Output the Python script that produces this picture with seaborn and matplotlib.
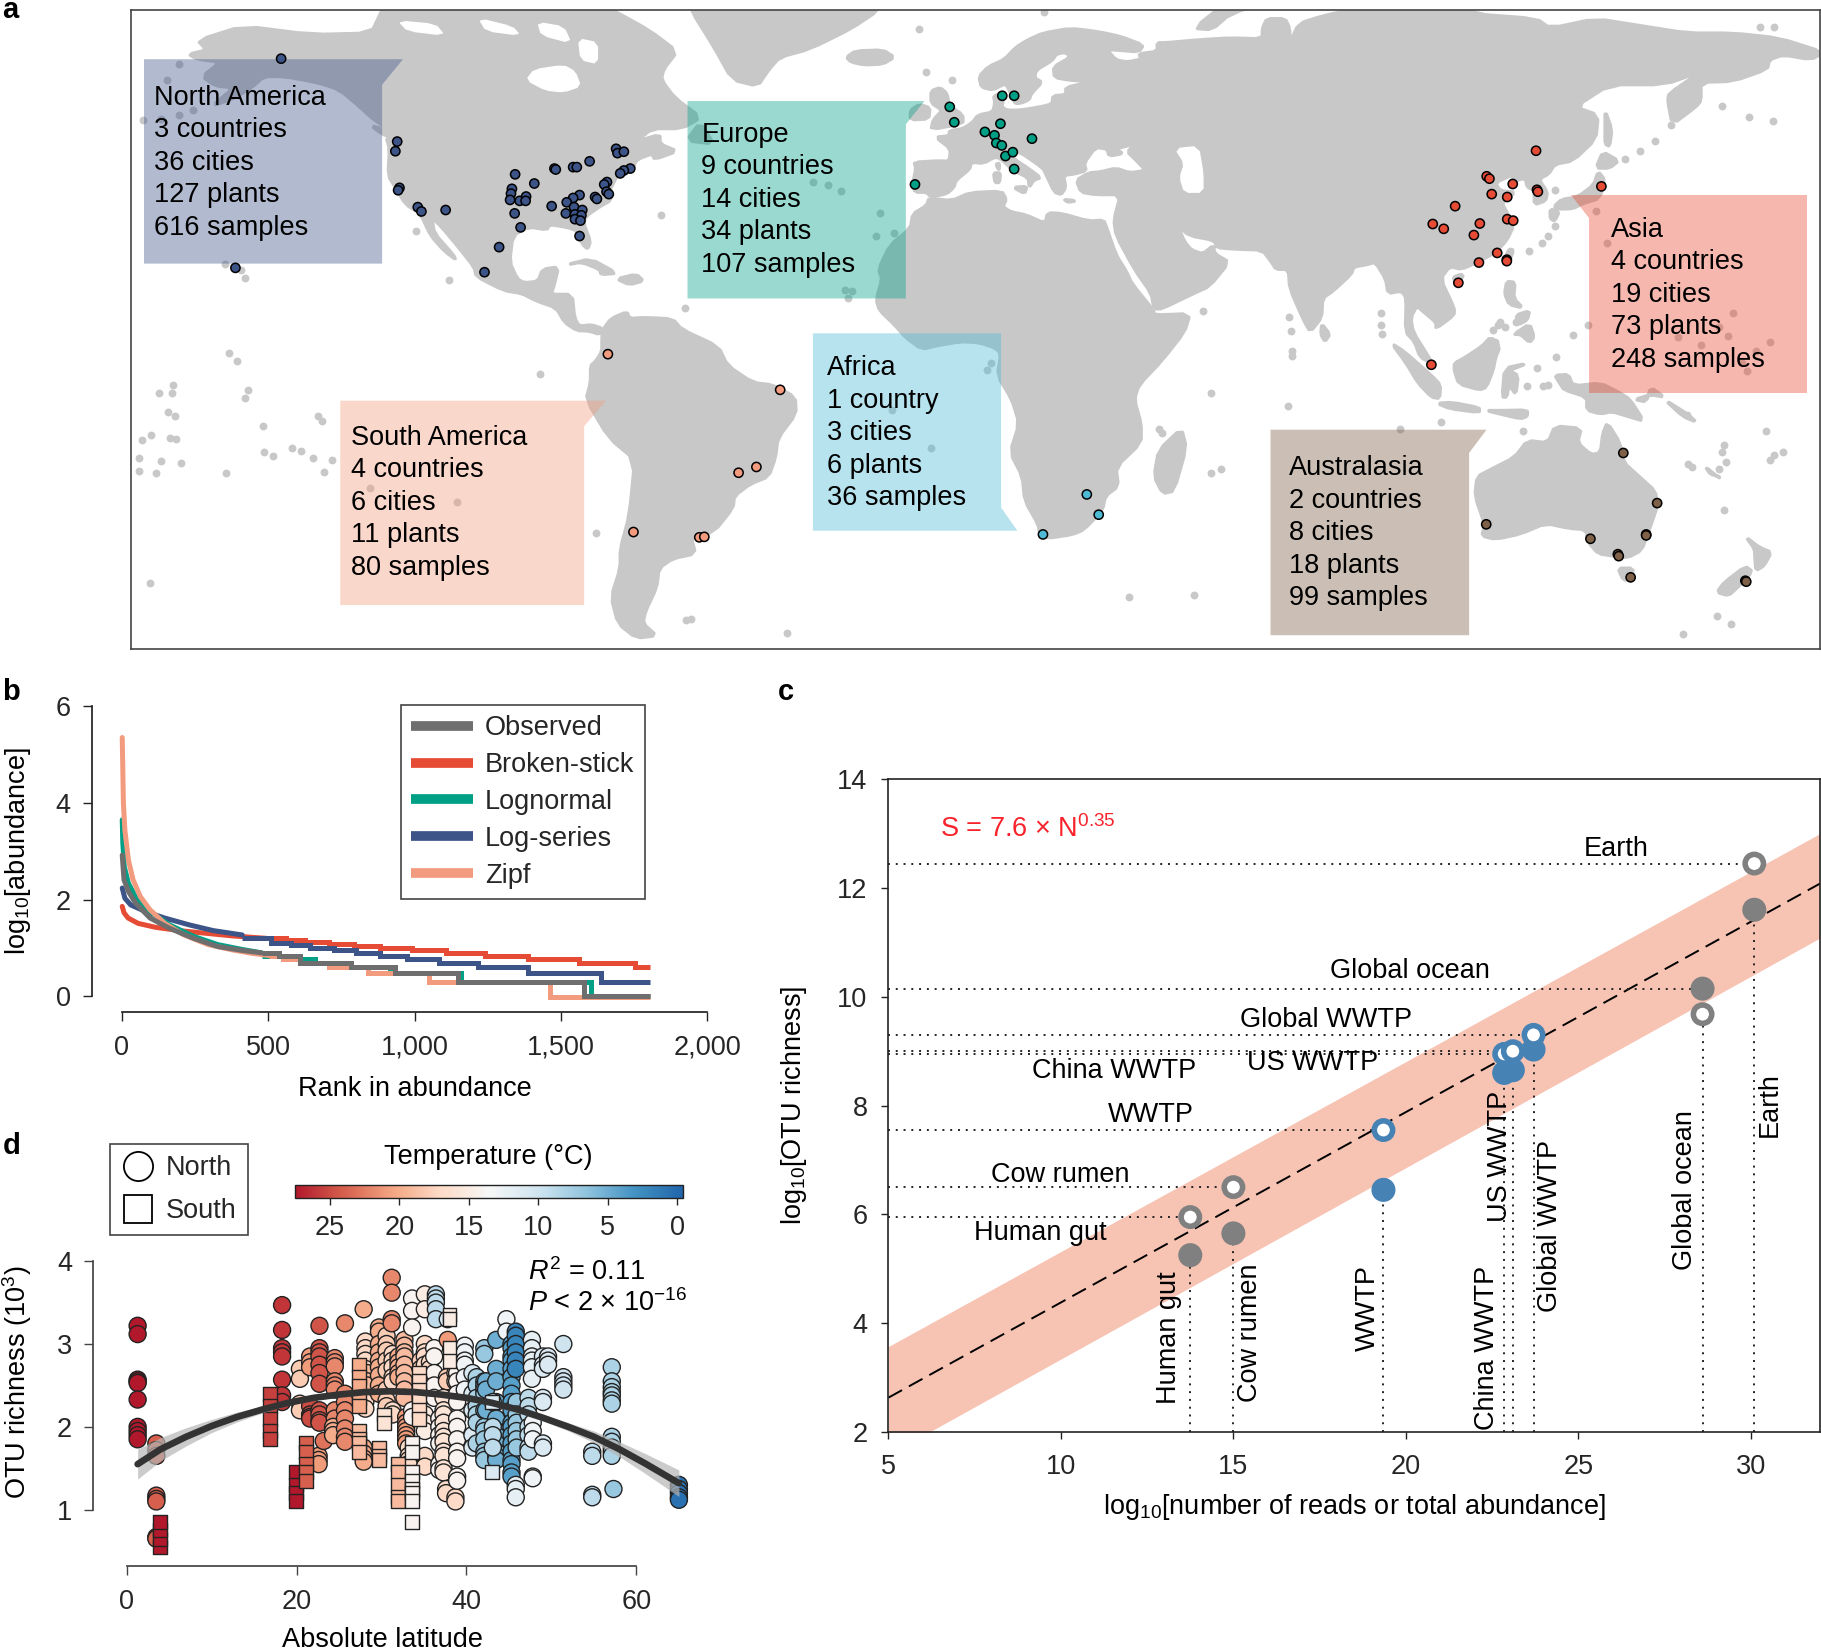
import numpy as np
import pandas as pd
import matplotlib
matplotlib.use('Agg')
import matplotlib.pyplot as plt
import seaborn as sns
from matplotlib.lines import Line2D
from matplotlib.patches import Polygon
from matplotlib.cm import ScalarMappable
from matplotlib.colors import Normalize

sns.set_theme(style='ticks')
plt.rcParams['font.family'] = ['Liberation Sans', 'DejaVu Sans']
plt.rcParams['mathtext.fontset'] = 'custom'
plt.rcParams['mathtext.rm'] = 'Liberation Sans'
plt.rcParams['mathtext.it'] = 'Liberation Sans:italic'
plt.rcParams['mathtext.default'] = 'regular'
plt.rcParams['axes.edgecolor'] = '#222222'

FS = 19.5
W, H = 1568, 1420.8
LAND = '#C8C8C8'
NPG = {'North America': '#3C5488', 'Europe': '#00A087', 'Asia': '#E64B35',
       'Africa': '#4DBBD5', 'South America': '#F39B7F', 'Australasia': '#7E6148'}

# ---------- panel a: land outlines (lon, lat) ----------
EURASIA = [(-9, 37), (-9.5, 38.7), (-8.8, 42), (-9.2, 43.2), (-4, 43.5), (-1.5, 43.4), (-1.2, 46), (-4.5, 48.4),
           (-1.5, 48.7), (-1.5, 49.7), (1.5, 50.2), (3.5, 51.4), (4.8, 53), (8, 53.6), (8.5, 55.5), (8.2, 57),
           (10.6, 57.7), (10.3, 56), (10, 54.8), (11, 54), (14, 54), (18.5, 54.7), (21, 55.3), (21.2, 57), (24, 57.2),
           (24, 58.7), (28, 59.6), (30, 60), (25, 60.2), (21.5, 60.8), (21.3, 63), (25, 65), (24, 66), (22, 65.7),
           (21, 64.3), (17.5, 62.3), (17.2, 60.7), (18.8, 59.8), (16.5, 57.5), (16, 56.2), (14.3, 55.5), (12.9, 55.4),
           (12.5, 56.5), (11.2, 58.9), (10.7, 59.5), (8, 58.2), (5.5, 58.8), (5, 61), (7, 63), (10.5, 64.5), (13, 67),
           (15.5, 68.5), (19, 70), (25, 71), (31, 70.3), (36, 69.3), (41, 67.5), (40, 66.1), (35, 66.5), (33, 66.6),
           (35, 64.4), (37.5, 64), (40.5, 64.6), (40, 65.7), (44, 66.2), (44, 68), (46, 68), (53, 68.6), (60, 69),
           (67, 68.8), (67, 71), (68, 73), (72, 73), (73, 71), (73, 68), (75, 72), (80, 73.5), (87, 75), (100, 77),
           (105, 78), (113, 74), (127, 73), (130, 71), (140, 73), (150, 71.5), (160, 70), (170, 70), (180, 69),
           (190, 66), (187, 64.5), (181, 65.5), (178, 64.5), (177.5, 62.5), (170, 60), (163, 59.8), (163, 56),
           (162, 54.8), (156.7, 51), (155.7, 56), (156, 57.5), (163, 62), (155, 59.3), (143, 59.3), (135.5, 54.7),
           (140.5, 53), (140, 48), (135, 43.5), (131, 42.8), (129.7, 40.8), (127.5, 39.7), (129.4, 37), (129, 35.2),
           (126.5, 34.4), (126.5, 37.5), (125, 38), (124.5, 40), (121.5, 39), (122, 40.7), (118, 39), (119, 37.3),
           (122.5, 37), (119.3, 35), (121, 32), (122, 30), (120.5, 27), (118, 24.5), (114, 22.4), (110.5, 21),
           (108, 21.6), (106, 19), (109, 13), (109, 11.5), (105, 8.7), (105, 10), (102.5, 12), (100.8, 13.4),
           (99.5, 11), (100, 8), (103.3, 3), (104.2, 1.4), (101.5, 2.8), (100.3, 6), (98.3, 8), (98.5, 15),
           (97.5, 16.5), (94.5, 16), (94, 19), (91.7, 22.5), (90, 22), (87, 21.5), (86.5, 20), (82.5, 16.5),
           (80.2, 15), (80, 11), (77.5, 8), (76, 10.5), (73, 17), (72.7, 21), (70, 21), (69, 22.5), (67, 25),
           (61, 25.2), (57, 25.5), (56.5, 27), (51, 28), (48.5, 30), (50, 26.7), (51.5, 25), (54, 24.2), (56.3, 26),
           (56.6, 24.2), (59.8, 22.5), (55.5, 17.5), (52, 16), (45, 12.8), (43.3, 12.8), (42.7, 16), (39, 21),
           (35, 28), (34.5, 31.3), (36, 36.5), (30.5, 36.5), (27.3, 37), (26.3, 39.5), (29, 41), (31.5, 41.2),
           (35, 42), (38, 41), (41.5, 41.5), (39, 44), (37.5, 45.3), (39, 47), (35, 46), (36.5, 45), (33.5, 44.5),
           (33, 46), (30.5, 46.3), (28, 43), (28.5, 41.5), (26, 40.8), (23.5, 40.5), (24, 38), (23, 36.5), (21.5, 37),
           (19.5, 41), (19, 42), (14, 45.3), (12.5, 45.3), (12.5, 44), (16, 41.8), (18.5, 40), (17, 39.5), (16, 38),
           (15.8, 40), (12.5, 41.5), (10.3, 43.5), (8.7, 44.4), (6, 43), (3.3, 43.2), (3, 41.8), (0, 39.5), (-0.5, 38),
           (-2, 36.7), (-5.5, 36), (-6.5, 37)]
AFRICA = [(-5.9, 35.8), (-1, 35.2), (3, 36.9), (10, 37.2), (11, 35.5), (10.2, 34), (12, 32.9), (15.3, 32.3),
          (19.5, 30.5), (20, 32.7), (23, 32.6), (29, 31), (32.3, 31.2), (33, 29.5), (35, 24), (37.3, 20.5), (38.5, 18),
          (43.2, 12.5), (43.3, 11.5), (51.2, 11.8), (50, 8), (45, 2), (40, -3), (39, -6), (40.5, -11), (40.5, -15),
          (35, -20), (35.5, -24), (32.7, -26), (32, -29), (28, -33), (25.5, -34), (20, -34.8), (18.3, -34), (18, -32),
          (15, -27), (14.5, -22), (11.8, -17), (13.8, -11), (12.2, -6), (9, -1), (9.8, 3.5), (8.5, 4.7), (5, 5.8),
          (1, 6), (-4, 5.2), (-7.5, 4.4), (-11, 6.8), (-13.5, 9.5), (-16.8, 12.5), (-17.5, 14.7), (-16.2, 19), (-17, 21),
          (-14.5, 26), (-10, 29.5), (-9.5, 32.5), (-6.5, 34.2)]
N_AMERICA = [(-168, 65.6), (-164, 66.5), (-166, 68.5), (-156, 71.5), (-141, 69.7), (-128, 70), (-126, 74), (-125, 76),
             (-78, 76), (-75, 74.7), (-67, 70.5), (-61, 66.2), (-64, 62.5), (-64.5, 60.3), (-61.5, 56.5), (-55.8, 52.5),
             (-60, 50.2), (-66.5, 50.2), (-70, 47.5), (-64.8, 49), (-64.8, 47), (-61, 45.5), (-66, 43.8), (-66.5, 45),
             (-70, 43.7), (-70.7, 41.7), (-74, 40.7), (-76, 37), (-75.5, 35.3), (-78, 34), (-81, 32), (-81.5, 30.5),
             (-80, 26.8), (-80.6, 25.2), (-81.8, 26.2), (-83, 29), (-85, 29.7), (-89, 30.3), (-89.5, 29.2),
             (-93.5, 29.8), (-97, 28), (-97.7, 22.5), (-96, 19), (-94.5, 18.2), (-91.5, 18.5), (-90.5, 21), (-87, 21.5),
             (-88, 17.5), (-88.7, 15.8), (-84, 15.8), (-83.5, 11), (-82.5, 9.2), (-79.8, 9.5), (-77.3, 8.7), (-78, 7.5),
             (-80.3, 8.2), (-83, 8.3), (-85.7, 10), (-87.5, 13), (-92, 14.5), (-95, 16), (-99, 16.6), (-105, 19.5),
             (-105.5, 21.5), (-109, 25.7), (-112.8, 30), (-114.7, 31.7), (-114.2, 28.5), (-110, 24), (-109.5, 23),
             (-112, 24.8), (-115, 28), (-117.2, 32.5), (-120.5, 34.5), (-122.5, 37.7), (-124.3, 40.4), (-124, 46),
             (-124.7, 48.4), (-122.5, 48.5), (-125, 50.5), (-128, 52.5), (-130.5, 54.7), (-135, 58.3), (-140, 59.8),
             (-147, 61), (-151.5, 61), (-154, 58.8), (-158, 56.5), (-163, 54.8), (-158, 58.7), (-162, 59), (-165, 61),
             (-161, 64), (-166, 64.6)]
S_AMERICA = [(-77.3, 8.5), (-75.5, 10.8), (-72, 12.2), (-71.5, 10.8), (-68, 11), (-62, 10.7), (-60, 8.5), (-52, 5),
             (-50, 1), (-44.5, -2.5), (-40, -3), (-35.2, -5.5), (-35, -9), (-39, -14), (-39.5, -18), (-41, -22),
             (-45, -23.5), (-48.5, -26), (-48.8, -28.5), (-53, -33.5), (-58, -34.5), (-57, -38), (-62, -39), (-65, -41),
             (-65.5, -45), (-68, -50), (-68.5, -52.5), (-65.5, -55), (-70, -55.5), (-74, -52.5), (-75.5, -47),
             (-73.5, -41), (-73.5, -37), (-71.5, -30), (-70.3, -18.5), (-76, -14), (-81, -6), (-80, -2.5), (-80, 1),
             (-78.8, 2), (-77.5, 4), (-77.5, 7)]
GREENLAND = [(-58, 74.7), (-53, 67.1), (-49, 60.3), (-43.4, 59), (-41, 62.4), (-38.6, 65), (-32, 66.7), (-23, 70.9),
             (-17, 74.7), (-17, 77), (-58, 77)]
AUSTRALIA = [(114, -22), (113.5, -26), (115.7, -32), (115, -34.3), (118, -35), (123.5, -33.9), (129, -31.7), (134, -32.7),
             (137.8, -33), (138.3, -35.6), (140.5, -38), (144, -38.5), (147, -38.8), (150, -37.3), (151.5, -33.5),
             (153.5, -28), (153, -25), (149.5, -22), (146, -19), (145.3, -15), (142.5, -10.8), (141.5, -13), (141, -17),
             (139, -17.5), (136, -15), (136.8, -12), (131, -11.5), (129.5, -15), (125, -14.5), (122.2, -18), (117, -20.5)]
ISLANDS = [
    [(49.3, -12), (50.4, -16), (47.7, -25), (45.2, -25.5), (43.3, -22), (44.3, -16.5)],
    [(-24, 65), (-22, 66.3), (-16, 66.5), (-13.5, 65), (-16, 63.6), (-20, 63.4), (-23, 64)],
    [(-5.5, 50), (1.5, 51.2), (1.5, 53), (-1.5, 55), (-2, 57.5), (-3.5, 58.7), (-5.5, 58), (-5.5, 55.5), (-3, 54), (-5, 52)],
    [(-10, 52), (-6, 52.2), (-5.7, 54.5), (-8, 55.2), (-10, 54)],
    [(52, 71), (56, 70.7), (60, 74), (70, 77), (60, 77)],
    [(144.8, -41), (148.2, -41), (147.8, -43.3), (146, -43.5)],
    [(172.7, -40.6), (174.3, -41.7), (171, -45), (169, -46.7), (166.5, -46), (168, -44)],
    [(172.8, -34.5), (175.8, -36.7), (178.4, -37.7), (176.8, -40.5), (175, -41.5), (174.8, -39), (174.7, -37)],
    [(131, -1), (134, -0.8), (135, -3.2), (141, -2.6), (145, -4.5), (147.5, -6), (150.5, -10.5), (147, -9.5), (143.5, -8.5),
     (141, -9), (138, -8.2), (138, -5.5), (133, -4), (132, -2.5)],
    [(109, 1.5), (111.5, 2.8), (115, 5), (117, 7), (119, 5), (118, 2.5), (117.5, 0), (116, -3.5), (114.5, -4), (110, -2.8), (109, 0)],
    [(95.3, 5.6), (98, 4), (104, -1), (106, -3), (105.8, -5.8), (104, -5.5), (101, -2.5), (98.5, 1.5)],
    [(105.3, -6.8), (108.5, -6.6), (114.5, -7.7), (114.5, -8.7), (108, -7.9)],
    [(119.5, -5.5), (120, 0.5), (125, 1.5), (121, 0), (123, -1), (122.5, -5), (121, -3), (120.5, -5.5)],
    [(116, -8.3), (119, -8.3), (125, -8.2), (125, -9.5), (123.5, -10), (119, -9)],
    [(120.5, 18.5), (122.3, 18.3), (122, 15), (124, 13), (121, 13.7), (120, 16)],
    [(122, 7.5), (125.5, 9.7), (126.5, 7), (125.5, 5.8), (123.5, 7.5)],
    [(122.5, 11.5), (125.5, 12.4), (125, 10.5), (123, 9.5)],
    [(130.8, 34), (132.5, 35.5), (136, 36), (139.5, 38.5), (140.5, 41.3), (142, 39.5), (140.8, 35.7), (137, 34.6), (135, 33.6), (132, 33.5)],
    [(140, 42), (141.5, 45.4), (145, 43.5), (143, 42)],
    [(130, 33.5), (132, 33), (131, 31), (130, 31.5)],
    [(142, 54), (143.5, 50), (143, 46.5), (142, 47), (142, 50)],
    [(121, 25.2), (122, 25), (120.8, 22), (120.1, 23.3)],
    [(108.7, 19.3), (110.5, 20), (111, 19.5), (109.5, 18.2)],
    [(80, 9.7), (81.8, 7.5), (80.7, 6), (79.8, 7.5)],
    [(-85, 22), (-80, 23.2), (-74.2, 20.2), (-77.7, 19.9), (-78, 21), (-82, 22.5)],
    [(-74.3, 19), (-70, 20), (-68.4, 18.6), (-71.5, 17.8)],
    [(-59, 47.7), (-56, 51.5), (-53, 47)],
    [(-128, 50.8), (-125, 50), (-123.5, 48.4), (-125.5, 49)],
    [(8.2, 41), (9.7, 41), (9.5, 39), (8.5, 39)],
    [(8.7, 42.8), (9.5, 43), (9.4, 41.5)],
    [(12.5, 38), (15.5, 38.2), (15, 36.7)],
    [(23.6, 35.5), (26.2, 35.2), (24.5, 34.9)],
    [(152, -3.5), (155, -5.5), (152, -5), (148.5, -6), (151, -6.5)],
    [(164, -20), (167, -22.3), (167, -22), (165, -21.5)],
    [(155, -6), (160, -9), (162, -10.7), (159, -9.5)],
]
WATER = [
    [(48, 46), (53, 46.5), (54, 41), (54, 37), (50, 37), (49, 40), (50, 43)],
    [(-94, 60.3), (-92.3, 62.4), (-85.9, 63.3), (-83.4, 62), (-82.2, 59), (-85.9, 57.8), (-89.9, 58.2)],
    [(-82.6, 68.8), (-78.5, 68), (-78.5, 63.7), (-82.1, 64.5)],
    [(-104.4, 73), (-97.1, 71.3), (-95.5, 69.6), (-102.8, 70.5)],
    [(-91.5, 72.2), (-85.9, 71.3), (-84.3, 68), (-90.7, 69.6)],
    [(-122, 72.5), (-114, 71.8), (-112, 69.6), (-120, 70.5)],
]
ISLE_LON = [-159.2, -157.3, -171.4, -174.4, -171.6, -154.9, -155.7, -172.4, -171, -139.6, -138.8, -151.7, -176.1, -178.1,
            -172, -170.6, -151.4, -149.4, -145.3, -143.3, -140.7, -136.6, -178.9, -178.7, -173.9, -169.7, -175.1, -159.7,
            -138.4, -128.2, -109.2, -78.7, -118.2, -110.9, -64.6, -176.5, -59.4, -91, -59, -58, -170, -172.7, -178, -174,
            -170, -167, -155.5, -156.5, -160, -31.3, -28, -25.2, -16.7, -17.5, -13.5, -24.4, -22.8, -23.6, 7.6, 6.8, -14.1,
            -5.4, 55.7, 44.4, 45, 55.7, 57.9, 37.9, 52, -37, 54, -6.6, -8.2, -1, 19.3, 72.8, 73.2, 73.6, 73.6, 72.7, 106, 97.1,
            124, 160.2, 168.1, 166.4, 169.5, 159.1, 177.3, 138.3, 134.9, 131.3, 158, 163, 169, 172, 167, 170, 175, 173, 178,
            142.4, 140.1, 131, 129.5, 128.2, 125.4, 156.5, 152.9, 149.7, 146.4, 167.5, 173.5, 178.8, 176, 179, 92.9, 92.9, 93.3,
            131, 179, 168, 167.5, 168.5, 181, 178, 161, 167, 125, 127, 128.5, 129.5, 160, 118, 119, 122.5, 120, 117.5, 118.5]
ISLE_LAT = [3.7, 1.9, -3, -4.7, -4.6, -4.1, -5.7, -8.7, -9.5, -9.4, -10.5, -11.5, -13.4, -14.4, -13.9, -14.3, -16.8, -17.8,
            -16.1, -16.6, -18.1, -18.5, -18.1, -20.8, -18.7, -19.1, -21.3, -21.3, -21, -24.4, -27.2, -33.7, 29, 18.7, 32.2,
            -44, 13, -0.7, -51.8, -51.5, 63.5, 60.3, 52, 52.2, 53, 54, 19.3, 20.8, 22, 39.2, 38.5, 37.3, 32.7, 28, 28.6, 16.8,
            16.4, 15.1, 1.6, 0.2, -8.1, -16, -4.7, -12.2, -12.9, -21.2, -20.4, -47, -46.5, -54.4, 12.4, 61.9, 70.9, 60.3, 74.3,
            11.2, 8.2, 4.1, 3, -7.4, -10.6, -12.2, -12.5, -19.3, -29, -51, -52.6, -54.6, -12.6, 9.5, 7.3, 2.9, 7, 5.3, 7.2,
            1.5, 9, 12, 4, 0, 6, 26.5, 33, 30, 28, 26.4, 24.7, 51, 47.7, 45.5, 43.9, 54.8, 52.6, 51.7, 71.3, 71.2, 12, 9.5, 7.5,
            37.5, -17.5, -15.5, -17, -19, -17, -18.5, -20, -20.5, -3.2, 0.5, -3.2, -3, -9.3, 6, 10, 10, 9, 8.5, 9.5]

# ---------- panel a: sampling sites ----------
NA_LON = [-147.7, -122.3, -122.7, -121.8, -122.1, -117.8, -117, -111.7, -157.7, -96.5, -97.2, -97.4, -97.6, -95.5, -94.1, -94.2,
          -96.6, -95.3, -100, -103.2, -92.3, -87.9, -87.6, -83.8, -83, -80.2, -74.4, -74.1, -72.7, -71.3, -72.7, -73.5, -76.4,
          -77, -76.5, -76, -79, -78.6, -82.4, -83.8, -85.2, -83.6, -81.8, -88.5, -85.4, -83.4, -82, -83.4, -82.2, -82.4]
NA_LAT = [64.7, 47.5, 45.5, 37.9, 37.4, 33.9, 33, 33.3, 21.3, 40.7, 37.7, 36.7, 35.4, 35.2, 36.1, 35.2, 32.6, 29.7, 25.6, 20.4,
          38.8, 41.9, 41.7, 42.2, 42.2, 43.4, 46, 45.1, 45.4, 41.9, 41.5, 40.9, 39.1, 38.6, 37.1, 36.6, 36, 35.6, 36.4, 35.8,
          34.9, 33.9, 33.3, 34.1, 32.6, 32.4, 32.2, 31.4, 31.1, 27.9]
SA_LON = [-76.2, -70.6, -56.2, -55.1, -38.5, -43.7, -47.6]
SA_LAT = [3.4, -33.5, -34.6, -34.5, -4, -20, -21.2]
EU_LON = [-9, -1.4, -0.4, 10.1, 12.7, 9.7, 6.3, 8.4, 8.8, 10, 10.8, 12.4, 12.7, 16.6]
EU_LAT = [38.6, 54.7, 51.5, 57, 57, 51.2, 49.5, 48.8, 47.2, 46.7, 44.5, 45.3, 41.8, 48.1]
AF_LON = [28.6, 31.2, 19]
AF_LAT = [-25.7, -29.9, -34]
AS_LON = [126.9, 116.1, 116.7, 121.8, 117.2, 120.6, 127.1, 127.3, 141.2, 109.2, 104.3, 106.7, 114.6, 113.3, 120.6, 121.9, 118.4,
          120.5, 120.5, 114.4, 109.9, 104]
AS_LAT = [45.6, 40.3, 39.8, 38.7, 36.6, 36, 37.5, 37.1, 38.2, 34.1, 30.4, 29.4, 30.5, 28.1, 31.4, 31.1, 24.4, 23, 22.7, 22.4, 18.2, 1.2]
AU_LON = [146, 153.4, 151, 151, 116, 138.8, 144.8, 145, 147.6, 172.7, 172.9]
AU_LAT = [-17.1, -27.5, -34, -34.2, -31.9, -34.9, -38.1, -38.5, -42.9, -43.6, -43.8]

REGION_LINES = {
    'North America': ['North America', '3 countries', '36 cities', '127 plants', '616 samples'],
    'Europe': ['Europe', '9 countries', '14 cities', '34 plants', '107 samples'],
    'Asia': ['Asia', '4 countries', '19 cities', '73 plants', '248 samples'],
    'Africa': ['Africa', '1 country', '3 cities', '6 plants', '36 samples'],
    'South America': ['South America', '4 countries', '6 cities', '11 plants', '80 samples'],
    'Australasia': ['Australasia', '2 countries', '8 cities', '18 plants', '99 samples'],
}

# ---------- panel b: rank abundance ----------
BS_HEAD_R = [1, 7, 21, 55, 113, 196, 278, 378, 494]
BS_HEAD_V = [1.86, 1.73, 1.62, 1.51, 1.43, 1.36, 1.31, 1.25, 1.2]
BS_STEP_R = [494, 560, 626, 709, 792, 883, 991, 1107, 1239, 1389, 1563, 1753, 1803]
BS_STEP_V = [1.2, 1.17, 1.12, 1.08, 1.045, 1.0, 0.95, 0.9, 0.845, 0.78, 0.695, 0.6, 0.6]
LS_HEAD_R = [1, 10, 30, 80, 146, 229, 312, 411]
LS_HEAD_V = [2.24, 2.03, 1.89, 1.755, 1.62, 1.48, 1.36, 1.27]
LS_STEP_R = [411, 510, 577, 643, 726, 800, 883, 974, 1082, 1215, 1389, 1637, 1803]
LS_STEP_V = [1.2, 1.1, 1.06, 1.0, 0.95, 0.9, 0.845, 0.78, 0.695, 0.6, 0.475, 0.295, 0.295]
LN_HEAD_R = [1, 3, 8, 22, 46, 96, 162, 245, 328, 411, 477]
LN_HEAD_V = [3.65, 3.17, 2.68, 2.34, 2.06, 1.755, 1.48, 1.24, 1.07, 0.97, 0.9]
LN_STEP_R = [477, 560, 659, 775, 916, 1157, 1604, 1803]
LN_STEP_V = [0.84, 0.78, 0.695, 0.6, 0.48, 0.295, 0.0, 0.0]
OB_HEAD_R = [1, 7, 22, 46, 96, 162, 245, 328, 411, 477]
OB_HEAD_V = [2.92, 2.41, 2.17, 1.93, 1.62, 1.41, 1.2, 1.03, 0.95, 0.9]
OB_STEP_R = [477, 535, 610, 784, 933, 1148, 1579, 1803]
OB_STEP_V = [0.9, 0.84, 0.7, 0.6, 0.48, 0.295, 0.0, 0.0]
ZP_HEAD_R = [1, 3, 5, 10, 22, 38, 63, 96, 146, 212, 295, 378, 444, 502]
ZP_HEAD_V = [5.35, 4.68, 3.99, 3.44, 2.82, 2.41, 2.06, 1.79, 1.51, 1.27, 1.07, 0.96, 0.89, 0.845]
ZP_STEP_R = [502, 552, 610, 709, 842, 1049, 1463, 1803]
ZP_STEP_V = [0.845, 0.78, 0.7, 0.6, 0.48, 0.295, -0.02, -0.02]
MODEL_NAMES = ['Observed', 'Broken-stick', 'Lognormal', 'Log-series', 'Zipf']
MODEL_COLORS = ['#6E6E6E', '#E64B35', '#00A087', '#3C5488', '#F39B7F']

# ---------- panel c: scaling law ----------
SYS_NAMES = ['Human gut', 'Cow rumen', 'WWTP', 'China WWTP', 'US WWTP', 'Global WWTP', 'Global ocean', 'Earth']
SYS_READS = [13.75, 15, 19.35, 22.85, 23.1, 23.7, 28.6, 30.1]
SYS_OPEN = [5.95, 6.5, 7.55, 8.95, 9.0, 9.3, 9.68, 12.45]
SYS_FILLED = [5.25, 5.65, 6.45, 8.6, 8.65, 9.03, 10.15, 11.6]
SYS_HLINE = [5.95, 6.5, 7.55, 8.95, 9.0, 9.3, 10.15, 12.45]
SYS_VLINE = [5.25, 5.65, 6.45, 8.6, 8.65, 9.03, 9.68, 11.6]
SYS_COLORS = ['#808080', '#808080', '#4682B4', '#4682B4', '#4682B4', '#4682B4', '#808080', '#808080']
FIT_X = [5, 32]
FIT_Y = [2.63, 12.08]
BAND_UP = [3.57, 13.0]
BAND_LOW = [1.58, 11.08]

# ---------- panel d: latitude gradient, stacks of (latitude, temperature, richness values) ----------
NORTH_STACKS = [
    (1.3, 27.5, [3.22, 3.12, 2.57, 2.55, 2.53, 2.33, 2.0, 1.95, 1.9, 1.85]),
    (3.5, 24, [1.8, 1.72, 1.65, 1.17, 1.13, 1.1, 0.67, 0.65]),
    (18.3, 26, [3.47, 3.17, 2.95, 2.9, 2.85, 2.57, 2.38, 2.3]),
    (20.4, 18, [2.7, 2.58, 2.28, 2.2]),
    (21.6, 21, [2.85, 2.78, 2.72]),
    (21.6, 25, [2.25, 2.15, 2.12, 2.1]),
    (22.7, 24.5, [3.22, 2.95, 2.9, 2.85, 2.75, 2.65, 2.52, 2.2, 2.15, 2.08, 2.05]),
    (22.6, 21, [1.65, 1.6, 1.55]),
    (23.2, 23, [1.83]),
    (24.5, 22, [2.83, 2.78, 2.73, 2.55, 2.5, 2.45, 2.2, 2.1]),
    (24.3, 20, [2.0, 1.95, 1.9]),
    (25.7, 22, [3.25, 2.4, 2.3, 2.2, 2.1, 1.98, 1.88, 1.82]),
    (27.9, 20, [3.42, 1.75, 1.68, 1.62, 1.58]),
    (28.1, 17, [3.03, 2.95, 2.88, 2.8, 2.7, 2.62, 2.52, 2.42, 2.3, 2.22]),
    (28.3, 19, [2.65, 2.55, 2.5]),
    (29.7, 20, [3.2, 3.15, 3.0, 2.9, 2.8, 2.72, 2.62, 2.5, 2.4]),
    (30.6, 18, [3.1, 3.0, 2.92, 2.8, 2.68, 2.45, 2.32, 2.25]),
    (31.2, 22, [3.8, 3.62, 3.3, 3.25]),
    (31.3, 17, [2.88, 2.8, 2.72, 2.6, 2.55, 2.2, 2.15]),
    (32.0, 20, [2.85, 2.78, 2.72, 2.65, 2.6]),
    (32.7, 19, [3.05, 2.98, 2.9, 2.85, 2.75, 2.65, 2.55, 2.45, 2.35]),
    (32.9, 21, [2.12, 2.05, 2.0, 1.95, 1.9, 1.85, 1.8]),
    (33.2, 17, [1.75, 1.65, 1.6, 1.55]),
    (33.6, 14, [3.55, 3.4, 3.2, 2.2, 2.12]),
    (34.6, 18, [2.8, 2.7, 2.55, 2.45, 2.35]),
    (35.1, 15, [3.6, 3.42, 2.15, 2.05, 1.95]),
    (35.1, 17, [3.0, 2.9, 2.85, 2.75, 1.65, 1.52]),
    (35.7, 17, [2.78, 2.7, 2.5]),
    (36.4, 9, [3.6, 3.55, 3.5, 3.42, 3.3]),
    (36.2, 14, [2.95, 2.85, 2.65, 2.5, 2.35]),
    (36.8, 14, [2.1, 2.0, 1.9, 1.8, 1.55, 1.48]),
    (37.8, 21, [3.05]),
    (37.8, 11, [3.3]),
    (37.7, 18, [2.6, 2.55]),
    (37.3, 16, [2.35, 2.2, 2.15, 2.05, 1.95, 1.88, 1.82, 1.7, 1.65, 1.5, 1.45]),
    (37.6, 17, [1.25, 1.2]),
    (38.7, 17, [2.65, 2.55, 1.15, 1.1]),
    (38.9, 14, [2.65, 2.55, 2.4, 2.3, 2.1, 2.0, 1.85, 1.7, 1.62, 1.4, 1.35]),
    (39.8, 13, [2.98, 2.9, 2.8, 2.75, 2.6, 2.45]),
    (40.7, 11, [2.65, 2.4, 2.2, 1.9, 1.75]),
    (41.2, 8, [2.6, 2.5, 2.35, 2.25, 2.15, 2.05, 1.8]),
    (42.1, 7, [2.95, 2.88, 2.55, 2.5, 2.45, 2.4, 2.2, 2.0, 1.95, 1.85, 1.7, 1.65, 1.6]),
    (42.3, 5, [2.55, 2.45, 2.2]),
    (43.5, 5, [3.05, 2.7, 2.55, 2.3, 2.1, 1.95, 1.9, 1.8, 1.7, 1.65, 1.6]),
    (43.1, 9, [2.3, 2.0, 1.9, 1.75]),
    (44.7, 13, [3.3, 3.15]),
    (45.3, 4, [3.0, 2.95, 2.85, 2.8, 2.7, 2.6, 2.5, 2.4, 2.3, 2.2, 2.05, 2.0, 1.9, 1.8, 1.7, 1.6, 1.55, 1.45, 1.4]),
    (45.8, 2, [3.15, 3.1, 3.0, 2.9, 2.8, 2.7]),
    (45.8, 12, [1.3, 1.25, 1.15]),
    (45.9, 7, [2.3, 2.15, 2.05, 1.95, 1.85, 1.75]),
    (47.3, 9, [2.35, 2.25, 2.15, 2.0, 1.9, 1.75, 1.7]),
    (47.8, 13, [2.05, 1.95, 1.85, 1.4, 1.38]),
    (47.7, 12, [3.05, 2.95, 2.85, 2.8, 2.72, 2.58]),
    (49.0, 11, [2.85, 2.75, 2.7, 2.35, 2.3, 1.8, 1.75]),
    (49.6, 11, [2.85, 2.8, 2.75]),
    (51.4, 10, [3.0, 2.6, 2.55, 2.5, 2.45]),
    (54.8, 9, [1.7, 1.65, 1.18, 1.15]),
    (57.1, 8, [2.72, 2.55, 2.48, 2.42, 2.38, 2.32, 2.28, 1.88, 1.82, 1.75, 1.7, 1.65]),
    (57.3, 7, [1.25]),
    (65.0, 0.5, [1.3, 1.25, 1.2, 1.15, 1.12]),
]
SOUTH_STACKS = [
    (3.9, 27.5, [0.55, 0.65, 0.75, 0.85]),
    (16.9, 25.5, [2.4, 2.25, 2.1, 1.95, 1.85]),
    (19.9, 27.5, [1.45, 1.3, 1.2, 1.1]),
    (21.1, 24, [1.8, 1.7, 1.55, 1.45, 1.35]),
    (27.4, 20, [2.75, 2.6, 2.5, 2.35, 2.25]),
    (27.4, 19, [1.95, 1.85, 1.8, 1.7]),
    (29.7, 19, [1.75, 1.65, 1.6]),
    (30.3, 16, [2.15, 2.05]),
    (31.9, 19, [1.55, 1.45, 1.3, 1.15, 1.1]),
    (33.6, 14, [1.8, 1.7, 1.45, 1.35, 1.25, 1.2, 1.1, 0.85]),
    (34.4, 17, [2.65, 2.55, 2.45, 2.35, 2.2, 2.1]),
    (38.0, 15, [3.35, 3.3, 2.95, 2.8]),
    (43.0, 11, [1.45, 2.3]),
]
# fitted curve of panel d
CURVE_LAT = [1.3, 4, 7, 10, 13, 16, 19, 22, 25, 28, 31, 34, 37, 40, 43, 46, 49, 52, 55, 58, 61, 63, 65]
CURVE_RICH = [1.55, 1.73, 1.88, 2.01, 2.12, 2.21, 2.29, 2.35, 2.39, 2.42, 2.43, 2.42, 2.39, 2.35, 2.29, 2.21, 2.11, 2.0, 1.88,
              1.73, 1.56, 1.44, 1.32]
CURVE_UP = [1.73, 1.87, 1.99, 2.09, 2.18, 2.25, 2.32, 2.38, 2.42, 2.45, 2.46, 2.45, 2.42, 2.38, 2.32, 2.25, 2.15, 2.05, 1.95,
            1.82, 1.68, 1.58, 1.48]
CURVE_LOW = [1.37, 1.59, 1.77, 1.93, 2.06, 2.17, 2.26, 2.32, 2.36, 2.39, 2.4, 2.39, 2.36, 2.32, 2.26, 2.17, 2.07, 1.95, 1.81,
             1.64, 1.44, 1.3, 1.16]
TEMP_TICKS = [25, 20, 15, 10, 5, 0]
RDBU = ['#2166AC', '#4393C3', '#92C5DE', '#D1E5F0', '#F7F7F7', '#FDDBC7', '#F4A582', '#D6604D', '#B2182B']


def box(left, top, right, bottom):
    return fig.add_axes([left / W, 1 - bottom / H, (right - left) / W, (bottom - top) / H])


def put(x, y, s, **kw):
    kw.setdefault('fontsize', FS)
    kw.setdefault('color', 'black')
    # small nudge so the glyphs, not the text box, sit on the read position
    if kw.get('rotation'):
        x += 2.5
    else:
        y += 2
    return fig.text(x / W, 1 - y / H, s, **kw)


def stacks_to_frame(stacks):
    rows = [(lat, r, t) for lat, t, vals in stacks for r in vals]
    return pd.DataFrame(rows, columns=['lat', 'richness', 'temp'])


def rounded(shape):
    # one pass of corner cutting, the reference coastlines have no sharp corners
    pts = np.array(shape, dtype=float)
    nxt = np.roll(pts, -1, axis=0)
    return np.column_stack([0.8 * pts + 0.2 * nxt, 0.2 * pts + 0.8 * nxt]).reshape(-1, 2)


fig = plt.figure(figsize=(18.21, 16.5), dpi=100)

# ---- a: map ----
ax = box(113, 9, 1567, 559)
ax.set_xlim(-180.5, 189)
ax.set_ylim(-57.8, 74.7)
ax.set_xticks([])
ax.set_yticks([])
for sp in ax.spines.values():
    sp.set_color('#444444')
    sp.set_linewidth(1.2)
for shape in [EURASIA, AFRICA, N_AMERICA, S_AMERICA, GREENLAND, AUSTRALIA] + ISLANDS:
    pts = rounded(shape)
    ax.fill(pts[:, 0], pts[:, 1], facecolor=LAND, edgecolor=LAND, lw=2.4, joinstyle='round', zorder=1)
for shape in WATER:
    pts = rounded(shape)
    ax.fill(pts[:, 0], pts[:, 1], facecolor='white', edgecolor='white', lw=1, zorder=1.5)
sns.scatterplot(x=ISLE_LON, y=ISLE_LAT, color=LAND, s=32, edgecolor=LAND, linewidth=0, ax=ax, zorder=1.6)

sites = pd.concat([
    pd.DataFrame({'lon': NA_LON, 'lat': NA_LAT, 'region': 'North America'}),
    pd.DataFrame({'lon': SA_LON, 'lat': SA_LAT, 'region': 'South America'}),
    pd.DataFrame({'lon': EU_LON, 'lat': EU_LAT, 'region': 'Europe'}),
    pd.DataFrame({'lon': AF_LON, 'lat': AF_LAT, 'region': 'Africa'}),
    pd.DataFrame({'lon': AS_LON, 'lat': AS_LAT, 'region': 'Asia'}),
    pd.DataFrame({'lon': AU_LON, 'lat': AU_LAT, 'region': 'Australasia'}),
])
sns.scatterplot(data=sites, x='lon', y='lat', hue='region', palette=NPG, s=44, edgecolor='black', linewidth=1.1,
                legend=False, ax=ax, zorder=4)
ax.set_xlabel('')
ax.set_ylabel('')

callouts = {
    'North America': ([(124, 51), (347, 51), (329, 73), (329, 227), (124, 227)], 133, 82),
    'Europe': ([(592, 87), (796, 87), (780, 107), (780, 257), (592, 257)], 604, 114),
    'Asia': ([(1353, 168), (1556, 168), (1556, 338), (1368, 338), (1368, 188)], 1387, 196),
    'Africa': ([(700, 287), (862, 287), (862, 437), (876, 457), (700, 457)], 712, 315),
    'South America': ([(293, 345), (522, 345), (503, 367), (503, 521), (293, 521)], 302, 375),
    'Australasia': ([(1094, 370), (1280, 370), (1265, 390), (1265, 547), (1094, 547)], 1110, 401),
}
for name, (corners, tx, ty) in callouts.items():
    pts = [(px / W, 1 - py / H) for px, py in corners]
    ax.add_patch(Polygon(pts, closed=True, transform=fig.transFigure, facecolor=NPG[name], edgecolor='none',
                         alpha=0.4, zorder=3, clip_on=False))
    for i, line in enumerate(REGION_LINES[name]):
        put(tx, ty + 28 * i, line, va='center', ha='left')

# ---- b: rank abundance ----
ax = box(105, 608, 609, 858)
ax.set_xlim(0, 2000)
ax.set_ylim(0, 6)
curves = [('Broken-stick', BS_HEAD_R, BS_HEAD_V, BS_STEP_R, BS_STEP_V),
          ('Log-series', LS_HEAD_R, LS_HEAD_V, LS_STEP_R, LS_STEP_V),
          ('Lognormal', LN_HEAD_R, LN_HEAD_V, LN_STEP_R, LN_STEP_V),
          ('Zipf', ZP_HEAD_R, ZP_HEAD_V, ZP_STEP_R, ZP_STEP_V),
          ('Observed', OB_HEAD_R, OB_HEAD_V, OB_STEP_R, OB_STEP_V)]
for name, hr, hv, sr, sv in curves:
    col = MODEL_COLORS[MODEL_NAMES.index(name)]
    sns.lineplot(x=hr, y=hv, color=col, lw=3.6, sort=False, estimator=None, ax=ax, clip_on=False, solid_joinstyle='round')
    sns.lineplot(x=sr, y=sv, color=col, lw=3.6, sort=False, estimator=None, ax=ax, clip_on=False,
                 drawstyle='steps-post', solid_joinstyle='miter', solid_capstyle='butt')
ax.set_xticks([0, 500, 1000, 1500, 2000])
ax.set_xticklabels(['0', '500', '1,000', '1,500', '2,000'])
ax.set_yticks([0, 2, 4, 6])
ax.tick_params(axis='both', labelsize=FS, length=6.7, width=1, color='#222222')
ax.tick_params(axis='x', pad=10)
ax.tick_params(axis='y', pad=8.5)
sns.despine(ax=ax, offset={'left': 21.7, 'bottom': 10.9})
ax.spines['left'].set_bounds(0, 6)
ax.spines['bottom'].set_bounds(0, 2000)
ax.set_xlabel('')
ax.set_ylabel('')
handles = [Line2D([], [], color=c, lw=7, label=n, solid_capstyle='butt') for n, c in zip(MODEL_NAMES, MODEL_COLORS)]
leg = ax.legend(handles=handles, loc='upper left', bbox_to_anchor=(345 / W, 1 - 607 / H), bbox_transform=fig.transFigure,
                frameon=True, fancybox=False, edgecolor='#444444', framealpha=1, borderaxespad=0, fontsize=FS,
                handlelength=2.3, handletextpad=0.43, labelspacing=0.4, borderpad=0.38)
leg.get_frame().set_linewidth(1.2)
put(13, 733, 'log$_{10}$[abundance]', rotation=90, ha='center', va='center')
put(357, 936, 'Rank in abundance', ha='center', va='center')

# ---- c: scaling law ----
ax = box(765, 671, 1567, 1233)
ax.set_xlim(5, 32)
ax.set_ylim(2, 14)
ax.fill_between(FIT_X, BAND_LOW, BAND_UP, color='#F7C4B4', lw=0, zorder=1)
sns.lineplot(x=FIT_X, y=FIT_Y, color='black', lw=1.4, linestyle=(0, (8, 4)), ax=ax, zorder=2)
for xv, hy, vy in zip(SYS_READS, SYS_HLINE, SYS_VLINE):
    ax.plot([5, xv], [hy, hy], color='#222222', lw=1.4, ls=(0, (1, 3)), zorder=2)
    ax.plot([xv, xv], [2, vy], color='#222222', lw=1.4, ls=(0, (1, 3)), zorder=2)
sns.scatterplot(x=SYS_READS, y=SYS_FILLED, c=SYS_COLORS, s=300, linewidth=0, ax=ax, zorder=3)
sns.scatterplot(x=SYS_READS, y=SYS_OPEN, facecolor='white', edgecolor=SYS_COLORS, s=175, linewidth=4, ax=ax, zorder=4)
ax.set_xticks([5, 10, 15, 20, 25, 30])
ax.set_yticks([2, 4, 6, 8, 10, 12, 14])
ax.tick_params(axis='both', labelsize=FS, length=5, width=1, color='#222222')
ax.tick_params(axis='x', pad=11)
ax.tick_params(axis='y', pad=10)
ax.set_xlabel('')
ax.set_ylabel('')
for sp in ax.spines.values():
    sp.set_linewidth(1.2)
put(681, 952, 'log$_{10}$[OTU richness]', rotation=90, ha='center', va='center')
put(1166, 1296, 'log$_{10}$[number of reads or total abundance]', ha='center', va='center')
put(809, 712, 'S = 7.6 × N$^{0.35}$', color='#F8232B', ha='left', va='center')
H_LABELS = [('Earth', 1392, 729), ('Global ocean', 1214, 834), ('Global WWTP', 1142, 876), ('US WWTP', 1130, 913),
            ('China WWTP', 959, 920), ('WWTP', 991, 958), ('Cow rumen', 913, 1010), ('Human gut', 896, 1060)]
V_LABELS = [('Human gut', 1004, 1152), ('Cow rumen', 1074, 1148), ('WWTP', 1175, 1126), ('China WWTP', 1278, 1161),
            ('US WWTP', 1289, 996), ('Global WWTP', 1332, 1056), ('Global ocean', 1448, 1025), ('Earth', 1521, 951)]
for s, x, y in H_LABELS:
    put(x, y, s, ha='center', va='center')
for s, x, y in V_LABELS:
    put(x, y, s, ha='center', va='center', rotation=90)

# ---- d: latitude ----
ax = box(109, 1086, 548, 1300)
ax.set_xlim(0, 60)
ax.set_ylim(1, 4)
tmin, tmax = -0.4, 27.5
cmap = sns.blend_palette(RDBU, as_cmap=True)
north = stacks_to_frame(NORTH_STACKS)
south = stacks_to_frame(SOUTH_STACKS)
sns.scatterplot(data=north, x='lat', y='richness', hue='temp', palette=cmap, hue_norm=(tmin, tmax), s=150,
                marker='o', edgecolor='#222222', linewidth=1, legend=False, ax=ax, clip_on=False, zorder=2)
sns.scatterplot(data=south, x='lat', y='richness', hue='temp', palette=cmap, hue_norm=(tmin, tmax), s=100,
                marker='s', edgecolor='#222222', linewidth=1, legend=False, ax=ax, clip_on=False, zorder=2.2)
ax.fill_between(CURVE_LAT, CURVE_LOW, CURVE_UP, color='#B5B5B5', alpha=0.7, lw=0, zorder=3, clip_on=False)
sns.lineplot(x=CURVE_LAT, y=CURVE_RICH, color='#333333', lw=4.8, ax=ax, zorder=4, clip_on=False)
ax.set_xticks([0, 20, 40, 60])
ax.set_yticks([1, 2, 3, 4])
ax.tick_params(axis='both', labelsize=FS, length=6.7, width=1, color='#444444')
ax.tick_params(axis='x', pad=10)
ax.tick_params(axis='y', pad=8.5)
sns.despine(ax=ax, offset={'left': 24, 'bottom': 40.5})
ax.spines['left'].set_bounds(1, 4)
ax.spines['bottom'].set_bounds(0, 60)
ax.spines['left'].set_color('#444444')
ax.spines['bottom'].set_color('#444444')
ax.set_xlabel('')
ax.set_ylabel('')
shape_handles = [Line2D([], [], marker='o', ls='', mfc='none', mec='black', ms=21, mew=1.3, label='North'),
                 Line2D([], [], marker='s', ls='', mfc='none', mec='black', ms=20, mew=1.3, label='South')]
leg = ax.legend(handles=shape_handles, loc='upper left', bbox_to_anchor=(95 / W, 1 - 985 / H), bbox_transform=fig.transFigure,
                frameon=True, fancybox=False, edgecolor='#444444', framealpha=1, borderaxespad=0, fontsize=FS,
                handlelength=1.2, handletextpad=0.42, labelspacing=0.62, borderpad=0.42)
leg.get_frame().set_linewidth(1.2)
put(12, 1190, 'OTU richness (10$^3$)', rotation=90, ha='center', va='center')
put(329, 1410, 'Absolute latitude', ha='center', va='center')
put(455, 1093, '$\\mathit{R}^{2}$ = 0.11', ha='left', va='center')
put(455, 1120, '$\\mathit{P}$ < 2 × 10$^{-16}$', ha='left', va='center')

cax = box(254, 1020, 588, 1032)
cbar = fig.colorbar(ScalarMappable(norm=Normalize(tmin, tmax), cmap=cmap), cax=cax, orientation='horizontal')
cax.set_xlim(tmax, tmin)
cbar.set_ticks(TEMP_TICKS)
cax.tick_params(axis='x', labelsize=FS, length=5, width=1, pad=7)
cbar.outline.set_linewidth(1)
put(420, 994, 'Temperature (°C)', ha='center', va='center')

# panel letters
for s, x, y in [('a', 2, 7), ('b', 2, 594), ('c', 670, 594), ('d', 2, 985)]:
    put(x, y, s, fontweight='bold', fontsize=21, ha='left', va='center')

fig.savefig('out.png', dpi=100)
